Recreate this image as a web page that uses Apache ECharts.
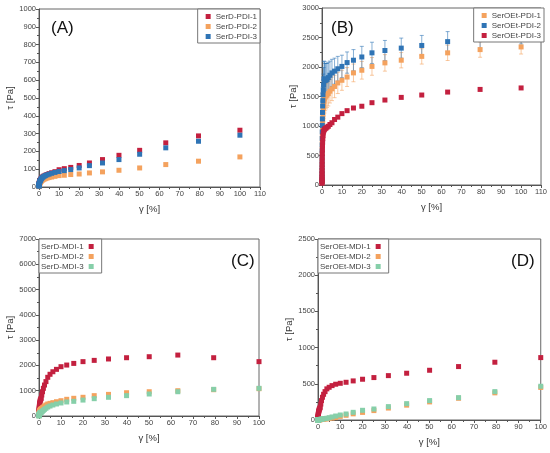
<!DOCTYPE html>
<html><head><meta charset="utf-8">
<script src="https://cdn.jsdelivr.net/npm/echarts@6/dist/echarts.min.js"></script>
<style>html,body{margin:0;padding:0;background:#fff}#c{width:550px;height:453px}</style>
</head><body><div id="c"></div>
<script>
// shared strain amplitude values (%)
const strain = [0.01,0.0126,0.0158,0.02,0.0251,0.0316,0.0398,0.0501,0.0631,0.0794,
  0.1,0.126,0.158,0.2,0.251,0.316,0.398,0.501,0.631,0.794,
  1,1.26,1.58,2,2.51,3.16,3.98,5.01,6.31,7.94,
  10,12.6,15.8,20,25.1,31.6,39.8,50.1,63.1,79.4,100];

// Panel A
const serD_PDI_1 = [6,7,8,9,10,11,12,13,15,16,18,20,22,24,27,30,33,36,39,42,
  46,50,54,58,62,66,70,75,80,86,97,103,110,121,135,154,178,206,248,287,319];
const serD_PDI_2 = [2,3,3,4,4,5,6,7,8,9,10,12,13,15,17,19,21,24,26,29,
  32,35,38,41,44,47,50,53,56,60,64,66,70,73,79,85,94,107,126,145,169];
const serD_PDI_3 = [5,6,7,8,9,10,11,12,14,15,17,19,21,23,25,28,31,34,37,40,
  44,48,52,56,60,64,68,72,77,82,87,92,98,107,120,135,154,184,220,257,291];

// Panel B
const serOEt_PDI_1 = [50,75,105,145,190,245,305,375,450,530,620,710,800,890,980,1070,1150,1230,1300,1370,
  1420,1460,1490,1510,1525,1550,1590,1630,1670,1730,1775,1830,1900,1945,2010,2070,2115,2180,2240,2295,2340];
const serOEt_PDI_1_err = [10,15,20,25,30,40,50,60,70,80,90,100,110,120,140,160,180,200,220,240,
  250,240,230,220,210,210,200,200,190,180,170,160,150,150,150,140,130,130,130,130,120];
const serOEt_PDI_2 = [60,90,130,180,240,310,390,480,580,680,790,900,1010,1120,1230,1340,1430,1530,1610,1700,
  1800,1790,1770,1780,1790,1820,1860,1900,1930,1970,2010,2075,2115,2170,2240,2280,2320,2365,2430,2490,2560];
const serOEt_PDI_2_err = [10,15,20,25,30,40,50,60,70,90,110,130,150,170,190,210,230,250,270,290,
  300,300,290,280,270,260,240,230,220,210,190,180,180,180,180,170,170,170,170,170,170];
const serOEt_PDI_3 = [30,45,65,90,120,155,195,240,290,345,405,470,535,600,665,725,785,835,880,910,
  930,945,955,965,980,995,1025,1055,1110,1150,1210,1260,1305,1335,1395,1440,1485,1525,1575,1620,1645];

// Panel C
const serD_MDI_1 = [40,55,70,90,110,135,160,190,220,255,290,330,370,410,455,500,545,590,635,670,
  700,830,960,1095,1225,1360,1530,1650,1750,1845,1950,2015,2080,2150,2200,2255,2305,2345,2410,2305,2150];
const serD_MDI_2 = [15,20,25,32,40,50,60,72,85,100,115,130,150,165,180,200,215,235,250,265,
  280,300,325,355,395,435,475,500,527,565,605,660,700,740,805,855,920,960,1000,1040,1080];
const serD_MDI_3 = [8,10,13,16,20,25,30,36,43,50,58,66,75,84,93,102,112,122,132,141,
  150,170,195,225,265,305,355,395,435,475,515,555,580,630,685,740,805,870,960,1055,1095];

// Panel D
const serOEt_MDI_1 = [10,13,16,20,25,30,36,42,49,57,66,75,85,95,106,117,128,140,152,163,
  175,220,268,314,355,392,430,452,475,494,507,521,540,563,586,613,646,687,738,798,862];
const serOEt_MDI_2 = [1,1,1,1,1,1,1,1,2,2,2,2,2,3,3,3,3,4,4,4,
  5,6,7,9,11,13,16,20,26,33,50,65,85,105,130,165,205,250,300,375,450];
const serOEt_MDI_3 = [1,1,1,1,1,2,2,2,2,3,3,3,4,4,4,5,5,6,6,7,
  8,10,12,14,17,20,24,32,42,55,69,83,106,134,152,185,226,268,309,392,466];

const panelLabels = ['(A)','(B)','(C)','(D)'];
const xName = 'γ [%]';
const yName = 'τ [Pa]';

const RED = '#c3203f', ORANGE = '#f4a25e', BLUE = '#2f74b5', GREEN = '#86cfa9';
const FONT = 'Liberation Sans';

const pairs = ys => strain.map((x, i) => [x, ys[i]]);
const errData = (ys, es) => strain.map((x, i) => [x, ys[i] - es[i], ys[i] + es[i]]);

const grids = [
  {left: 39, top: 9, width: 221, height: 178},
  {left: 322, top: 8, width: 222, height: 177},
  {left: 39, top: 239, width: 220, height: 177},
  {left: 318, top: 239, width: 225, height: 181}
].map(g => Object.assign(g, {show: true, borderColor: '#666', borderWidth: 1, backgroundColor: 'transparent'}));

const axisCommon = {
  axisLine: {show: true, onZero: false, lineStyle: {color: '#555', width: 1}},
  axisTick: {show: true, length: 3, lineStyle: {color: '#555'}},
  minorTick: {show: true, splitNumber: 2, length: 2, lineStyle: {color: '#555'}},
  splitLine: {show: false},
  axisLabel: {fontSize: 7.5, color: '#444', fontFamily: FONT, margin: 3, formatter: v => String(v)},
  nameLocation: 'middle',
  nameTextStyle: {fontSize: 9.5, color: '#333', fontFamily: FONT}
};
function xAx(gi, max) {
  return Object.assign({}, axisCommon, {type: 'value', gridIndex: gi, min: 0, max: max, interval: 10,
    name: xName, nameGap: 17});
}
function yAx(gi, max, interval) {
  return Object.assign({}, axisCommon, {type: 'value', gridIndex: gi, min: 0, max: max, interval: interval,
    name: yName, nameGap: 24, nameRotate: 90});
}

function sc(name, gi, ys, color, z) {
  return {name: name, type: 'scatter', xAxisIndex: gi, yAxisIndex: gi, data: pairs(ys),
    symbol: 'rect', symbolSize: 5, itemStyle: {color: color, opacity: 1}, z: z || 3, silent: true};
}
function eb(gi, ys, es, color) {
  return {type: 'custom', xAxisIndex: gi, yAxisIndex: gi, data: errData(ys, es), silent: true, z: 2,
    renderItem: function (params, api) {
      const lo = api.coord([api.value(0), api.value(1)]);
      const hi = api.coord([api.value(0), api.value(2)]);
      const w = 2;
      const st = {stroke: color, lineWidth: 0.9, opacity: 0.65};
      return {type: 'group', children: [
        {type: 'line', shape: {x1: lo[0], y1: lo[1], x2: hi[0], y2: hi[1]}, style: st},
        {type: 'line', shape: {x1: lo[0]-w, y1: lo[1], x2: lo[0]+w, y2: lo[1]}, style: st},
        {type: 'line', shape: {x1: hi[0]-w, y1: hi[1], x2: hi[0]+w, y2: hi[1]}, style: st}
      ]};
    }};
}

const legendCommon = {
  orient: 'vertical', itemWidth: 5, itemHeight: 5, itemGap: 1, icon: 'rect',
  borderColor: '#777', borderWidth: 1, borderRadius: 0, backgroundColor: '#fff',
  padding: [3, 3, 2, 8],
  textStyle: {fontSize: 8, color: '#444', fontFamily: FONT, lineHeight: 9}
};

const option = {
  animation: false,
  backgroundColor: '#fff',
  title: [
    {text: panelLabels[0], left: 46, top: 15},
    {text: panelLabels[1], left: 326, top: 15},
    {text: panelLabels[2], left: 226, top: 248},
    {text: panelLabels[3], left: 506, top: 248}
  ].map(t => Object.assign(t, {textStyle: {fontSize: 17, fontWeight: 'normal', color: '#111', fontFamily: FONT}})),
  legend: [
    Object.assign({}, legendCommon, {right: 290, top: 9, data: ['SerD-PDI-1','SerD-PDI-2','SerD-PDI-3']}),
    Object.assign({}, legendCommon, {right: 6, top: 8, data: ['SerOEt-PDI-1','SerOEt-PDI-2','SerOEt-PDI-3']}),
    Object.assign({}, legendCommon, {left: 39, top: 239, align: 'right', padding: [3, 8, 2, 2], data: ['SerD-MDI-1','SerD-MDI-2','SerD-MDI-3']}),
    Object.assign({}, legendCommon, {left: 318, top: 239, align: 'right', padding: [3, 8, 2, 2], data: ['SerOEt-MDI-1','SerOEt-MDI-2','SerOEt-MDI-3']})
  ],
  grid: grids,
  xAxis: [xAx(0, 110), xAx(1, 110), xAx(2, 100), xAx(3, 100)],
  yAxis: [yAx(0, 1000, 100), yAx(1, 3000, 500), yAx(2, 7000, 1000), yAx(3, 2500, 500)],
  series: [
    sc('SerD-PDI-1', 0, serD_PDI_1, RED, 3),
    sc('SerD-PDI-2', 0, serD_PDI_2, ORANGE, 3),
    sc('SerD-PDI-3', 0, serD_PDI_3, BLUE, 4),
    eb(1, serOEt_PDI_1, serOEt_PDI_1_err, ORANGE),
    eb(1, serOEt_PDI_2, serOEt_PDI_2_err, BLUE),
    sc('SerOEt-PDI-1', 1, serOEt_PDI_1, ORANGE, 3),
    sc('SerOEt-PDI-2', 1, serOEt_PDI_2, BLUE, 3),
    sc('SerOEt-PDI-3', 1, serOEt_PDI_3, RED, 3),
    sc('SerD-MDI-1', 2, serD_MDI_1, RED, 3),
    sc('SerD-MDI-2', 2, serD_MDI_2, ORANGE, 3),
    sc('SerD-MDI-3', 2, serD_MDI_3, GREEN, 4),
    sc('SerOEt-MDI-1', 3, serOEt_MDI_1, RED, 3),
    sc('SerOEt-MDI-2', 3, serOEt_MDI_2, ORANGE, 3),
    sc('SerOEt-MDI-3', 3, serOEt_MDI_3, GREEN, 4)
  ]
};
const chart = echarts.init(document.getElementById('c'), null, {renderer: 'canvas'});
chart.setOption(option);
</script></body></html>
